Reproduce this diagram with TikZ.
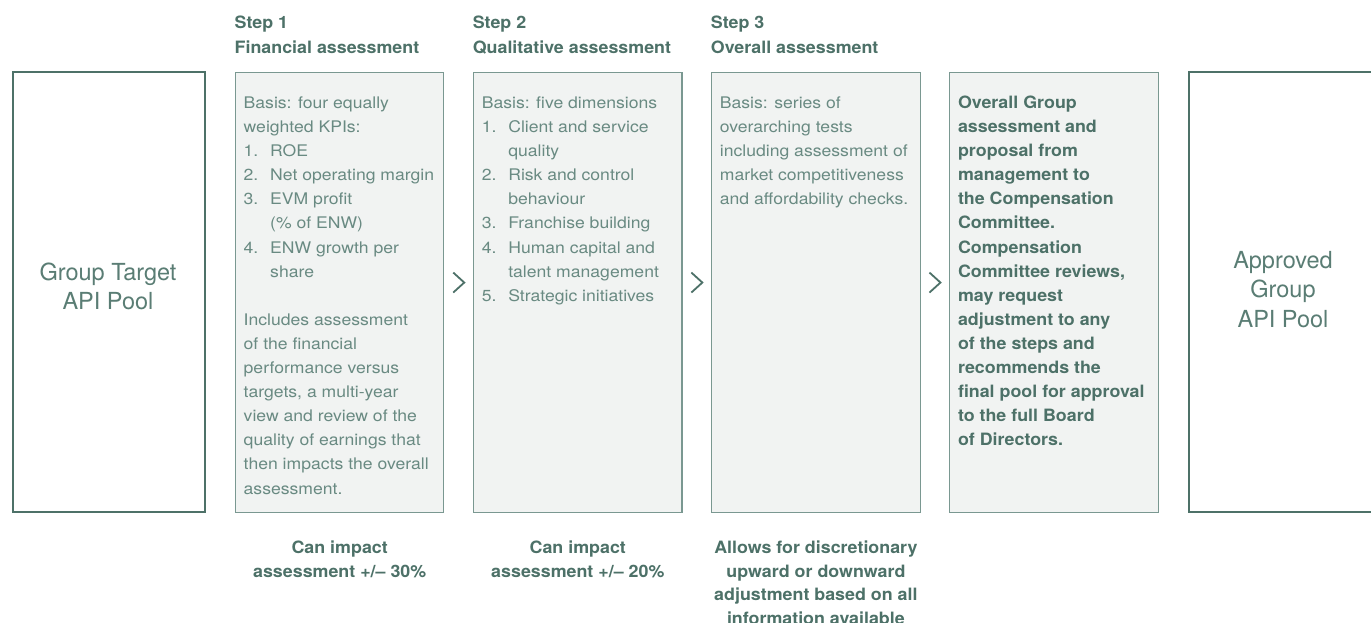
\documentclass[tikz,border=0pt]{standalone}
\usepackage{fontspec}
\setmainfont{TeX Gyre Heros}
\newfontfamily\bodyfont{TeX Gyre Heros}[FakeStretch=1.1]
\newfontfamily\strongfont{TeX Gyre Heros}[FakeStretch=1.05]
\usetikzlibrary{calc}

\definecolor{deepgreen}{RGB}{77,113,104}
\definecolor{softgreen}{RGB}{105,138,130}
\definecolor{labelgreen}{RGB}{90,125,116}
\definecolor{panelline}{RGB}{122,152,145}
\definecolor{panelfill}{RGB}{241,243,242}

% numbered list line and its hanging continuation
\newcommand\itm[2]{\makebox[26.5pt][l]{#1}#2}
\newcommand\cont[1]{\hspace*{26.5pt}#1}

\tikzset{
  panel/.style={draw=panelline, fill=panelfill, line width=1.1pt, anchor=north west,
    inner sep=0, minimum width=208.3pt, minimum height=439.8pt},
  poolbox/.style={draw=deepgreen, line width=2.3pt, anchor=north west,
    inner sep=0, minimum width=192pt, minimum height=440pt},
  bodynote/.style={anchor=base west, inner sep=0, text=softgreen,
    font=\bodyfont\fontsize{16}{24.1}\selectfont},
  strongnote/.style={anchor=base west, inner sep=0, text=deepgreen,
    font=\strongfont\bfseries\fontsize{17}{24.1}\selectfont},
  capnote/.style={anchor=base, inner sep=0, text=deepgreen,
    font=\strongfont\bfseries\fontsize{17}{23.5}\selectfont},
  poollabel/.style={anchor=base, inner sep=0, text=labelgreen,
    font=\fontsize{23.5}{29.5}\selectfont},
  chevron/.style={draw=deepgreen, line width=1.8pt, line join=miter, line cap=butt}
}

\begin{document}
\begin{tikzpicture}[x=1pt, y=-1pt]
\useasboundingbox (0,0) rectangle (1371,623);
\fill[white] (0,0) rectangle (1371,623);

% pools at both ends
\node[poolbox] (target) at (12,71) {};
\node[poolbox] (approved) at (1188,71) {};

% the four assessment panels
\node[panel] (s1) at (235,71.7) {};
\node[panel] (s2) at (473.1,71.7) {};
\node[panel] (s3) at (711.2,71.7) {};
\node[panel] (s4) at (949.3,71.7) {};

% step headings
\node[strongnote] (h1) at (234.5,29) {\parbox[t]{230pt}{\raggedright Step 1\\Financial assessment}};
\node[strongnote] (h2) at (472.6,29) {\parbox[t]{230pt}{\raggedright Step 2\\Qualitative assessment}};
\node[strongnote] (h3) at (710.7,29) {\parbox[t]{230pt}{\raggedright Step 3\\Overall assessment}};

% pool labels
\node[poollabel] (tgtlabel) at (108,280) {\parbox[t]{180pt}{\centering Group Target\\API Pool}};
\node[poollabel] (applabel) at (1283,268) {\parbox[t]{180pt}{\centering Approved\\Group\\API Pool}};

% panel contents
\node[bodynote] (b1) at (243.5,108.5) {\parbox[t]{205pt}{\raggedright
Basis: four equally\\
weighted KPIs:\\
\itm{1.}{ROE}\\
\itm{2.}{Net operating margin}\\
\itm{3.}{EVM profit}\\
\cont{(\% of ENW)}\\
\itm{4.}{ENW growth per}\\
\cont{share}\\[24.1pt]
Includes assessment\\
of the financial\\
performance versus\\
targets, a multi-year\\
view and review of the\\
quality of earnings that\\
then impacts the overall\\
assessment.}};

\node[bodynote] (b2) at (481.6,108.5) {\parbox[t]{205pt}{\raggedright
Basis: five dimensions\\
\itm{1.}{Client and service}\\
\cont{quality}\\
\itm{2.}{Risk and control}\\
\cont{behaviour}\\
\itm{3.}{Franchise building}\\
\itm{4.}{Human capital and}\\
\cont{talent management}\\
\itm{5.}{Strategic initiatives}}};

\node[bodynote] (b3) at (719.7,108.5) {\parbox[t]{205pt}{\raggedright
Basis: series of\\
overarching tests\\
including assessment of\\
market competitiveness\\
and affordability checks.}};

\node[strongnote] (b4) at (957.8,108.5) {\parbox[t]{205pt}{\raggedright
Overall Group\\
assessment and\\
proposal from\\
management to\\
the Compensation\\
Committee.\\
Compensation\\
Committee reviews,\\
may request\\
adjustment to any\\
of the steps and\\
recommends the\\
final pool for approval\\
to the full Board\\
of Directors.}};

% notes under the steps
\node[capnote] (n1) at ($(s1.south)+(0,41)$) {\parbox[t]{230pt}{\centering Can impact\\assessment +/– 30\%}};
\node[capnote] (n2) at ($(s2.south)+(0,41)$) {\parbox[t]{230pt}{\centering Can impact\\assessment +/– 20\%}};
\node[capnote] (n3) at ($(s3.south)+(0,41)$) {\parbox[t]{230pt}{\centering Allows for discretionary\\upward or downward\\adjustment based on all\\information available}};

% chevrons between the panels
\foreach \a/\b in {s1/s2, s2/s3, s3/s4}{
  \coordinate (c-\a) at ($(\a.east)!0.5!(\b.west)+(0,-9.6)$);
  \draw[chevron] ($(c-\a)+(-5.5,-10)$) -- ($(c-\a)+(5.5,0)$) -- ($(c-\a)+(-5.5,10)$);
}
\end{tikzpicture}
\end{document}
